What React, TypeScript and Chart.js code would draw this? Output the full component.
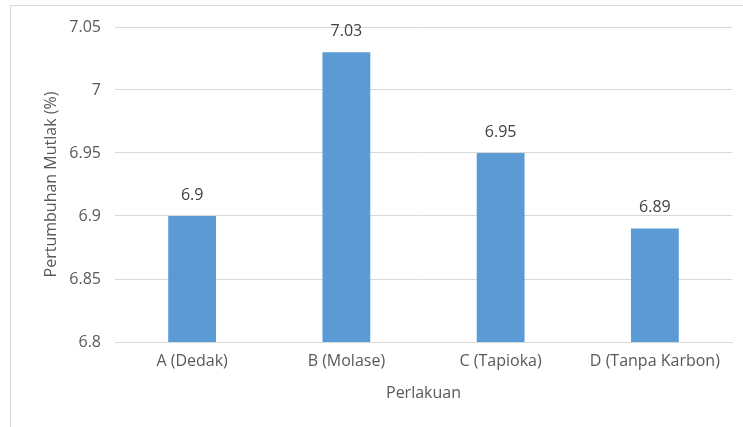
import React, { useEffect, useRef } from "react";
import { Chart, registerables } from "chart.js";

Chart.register(...registerables);

const categories = ["A (Dedak)", "B (Molase)", "C (Tapioka)", "D (Tanpa Karbon)"];
const values = [6.9, 7.03, 6.95, 6.89];
const valueLabels = ["6.9", "7.03", "6.95", "6.89"];
const yMin = 6.8;
const yMax = 7.05;
const yStep = 0.05;
const xTitle = "Perlakuan";
const yTitle = "Pertumbuhan Mutlak (%)";

const FONT = "'Open Sans', sans-serif";
const TEXT = "#595959";

const dataLabelPlugin = {
  id: "dataLabels",
  afterDatasetsDraw(chart: any) {
    const ctx = chart.ctx;
    const meta = chart.getDatasetMeta(0);
    ctx.save();
    ctx.font = `16px ${FONT}`;
    ctx.fillStyle = "#404040";
    ctx.textAlign = "center";
    ctx.textBaseline = "middle";
    meta.data.forEach((el: any, i: number) => {
      ctx.fillText(valueLabels[i], el.x, el.y - 21);
    });
    ctx.restore();
  },
};

export default function App() {
  const ref = useRef<HTMLCanvasElement | null>(null);
  useEffect(() => {
    if (!ref.current) return;
    const chart = new Chart(ref.current, {
      type: "bar",
      data: {
        labels: categories,
        datasets: [
          {
            data: values,
            backgroundColor: "#5B9BD5",
            borderWidth: 0,
            categoryPercentage: 1,
            barPercentage: 0.31,
          },
        ],
      },
      options: {
        animation: false,
        responsive: false,
        maintainAspectRatio: false,
        layout: { padding: { left: 38, right: 11, top: 27, bottom: 20 } },
        plugins: { legend: { display: false }, tooltip: { enabled: false } },
        scales: {
          x: {
            grid: { display: false, drawTicks: false },
            border: { display: true, color: "#d9d9d9", width: 1 },
            ticks: { color: TEXT, font: { family: FONT, size: 16 }, padding: 10, maxRotation: 0 },
            title: { display: true, text: xTitle, color: TEXT, font: { family: FONT, size: 16 }, padding: { top: 4, bottom: 4 } },
            afterFit: (s: any) => { s.height = 65; },
          },
          y: {
            min: yMin,
            max: yMax,
            grid: { color: "#d9d9d9", drawTicks: false },
            border: { display: false },
            ticks: {
              stepSize: yStep,
              color: TEXT,
              font: { family: FONT, size: 16 },
              padding: 14,
              callback: (v: any) => String(Math.round(Number(v) * 100) / 100),
            },
            title: { display: true, text: yTitle, color: TEXT, font: { family: FONT, size: 16 }, padding: { top: 4, bottom: 4 } },
            afterFit: (s: any) => { s.width = 77; },
          },
        },
      },
      plugins: [dataLabelPlugin],
    });
    return () => chart.destroy();
  }, []);
  return (
    <div style={{ position: "fixed", left: 0, top: 0, width: 743, height: 427, background: "#fff", overflow: "hidden" }}>
      <div style={{ position: "absolute", left: 10, top: 5, width: 800, height: 500, border: "1px solid #d9d9d9", boxSizing: "border-box" }} />
      <canvas ref={ref} width={743} height={427} style={{ position: "absolute", left: 0, top: 0, display: "block" }} />
    </div>
  );
}
